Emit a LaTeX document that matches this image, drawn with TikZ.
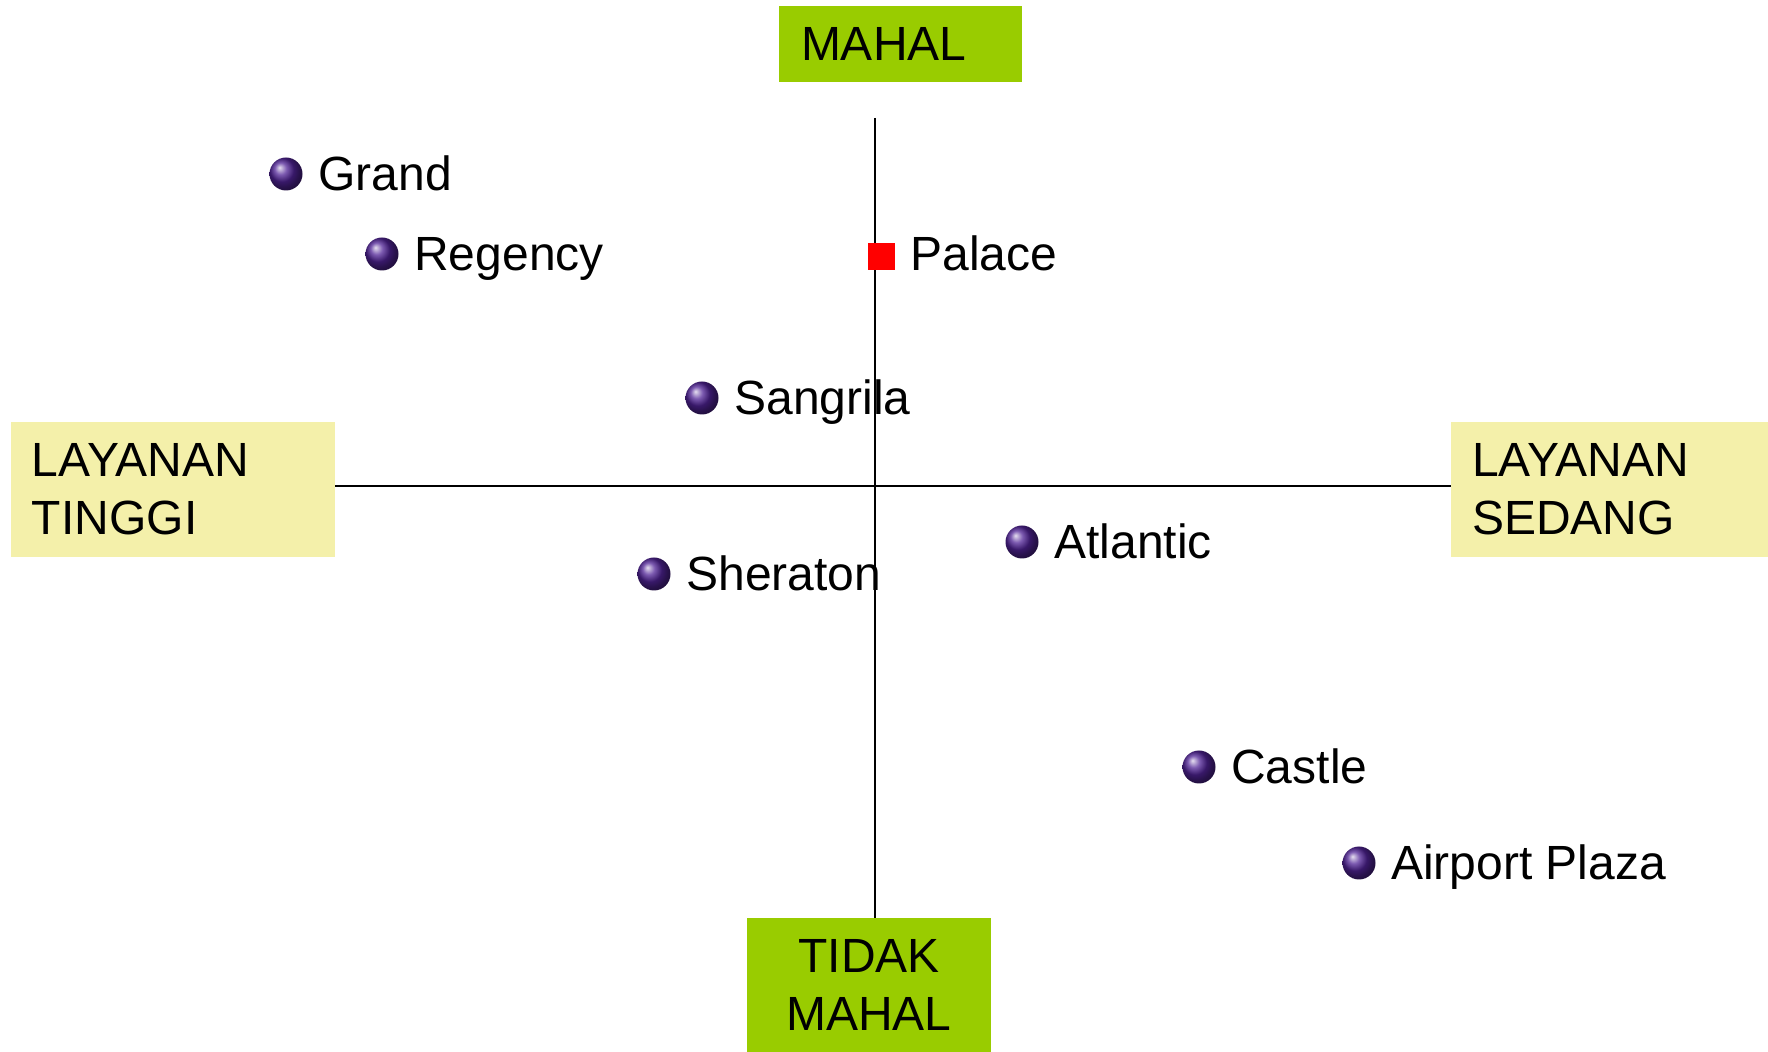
\documentclass[tikz,border=0pt]{standalone}
\usepackage{fontspec}
\setmainfont{Liberation Sans}
\usetikzlibrary{positioning,shadings}
\definecolor{axisgreen}{RGB}{153,204,0}
\definecolor{axisyellow}{RGB}{244,240,170}
\definecolor{hotelpurple}{RGB}{80,35,150}
\definecolor{palacered}{RGB}{255,0,0}

\begin{document}
\begin{tikzpicture}[x=0.5pt,y=-0.5pt,
    font=\fontsize{24}{29}\selectfont,
    greenbox/.style={fill=axisgreen,inner ysep=0pt},
    yellowbox/.style={fill=axisyellow,minimum height=67.5pt,inner xsep=10.5pt,inner ysep=0pt,align=left},
    axis/.style={line width=1pt,black},
    hotel/.style={circle,shading=ball,ball color=hotelpurple,minimum size=16.5pt,inner sep=0pt},
    hotelname/.style={anchor=base west,inner sep=0pt,xshift=7.5pt,yshift=-8.5pt}]
  \useasboundingbox (0,0) rectangle (1768,1052);

  %% Axis labels
  \node[greenbox,minimum width=121.5pt,minimum height=38pt,inner xsep=11pt,
        text width=99.5pt,align=left]
        (mahal) at (900.5,44) {MAHAL};
  \node[greenbox,minimum width=122pt,minimum height=67pt,align=center]
        (tidak) at (869,985) {TIDAK\\MAHAL};
  \node[yellowbox,minimum width=162pt,text width=141pt]
        (tinggi) at (173,489.5) {LAYANAN\\TINGGI};
  \node[yellowbox,minimum width=158.5pt,text width=137.5pt]
        (sedang) at (1609.5,489.5) {LAYANAN\\SEDANG};

  %% Axes
  \coordinate (origin) at (875,486);
  \coordinate (top) at (875,118);
  \draw[axis] (top) -- (top |- tidak.north);
  \draw[axis] (tinggi.east |- origin) -- (sedang.west |- origin);

  %% Hotels
  \node[hotel,label={[hotelname]right:Grand}] (grand) at (286,174) {};
  \node[hotel,label={[hotelname]right:Regency}] (regency) at (382,254) {};
  \node[fill=palacered,minimum size=13.5pt,inner sep=0pt,
        label={[hotelname,yshift=1.5pt]right:Palace}] (palace) at (881,257) {};
  \node[hotel,label={[hotelname]right:Sangrila}] (sangrila) at (702,398) {};
  \node[hotel,label={[hotelname]right:Sheraton}] (sheraton) at (654,574) {};
  \node[hotel,label={[hotelname]right:Atlantic}] (atlantic) at (1022,542) {};
  \node[hotel,label={[hotelname]right:Castle}] (castle) at (1199,767) {};
  \node[hotel,label={[hotelname]right:Airport Plaza}] (airport) at (1359,863) {};
\end{tikzpicture}
\end{document}
